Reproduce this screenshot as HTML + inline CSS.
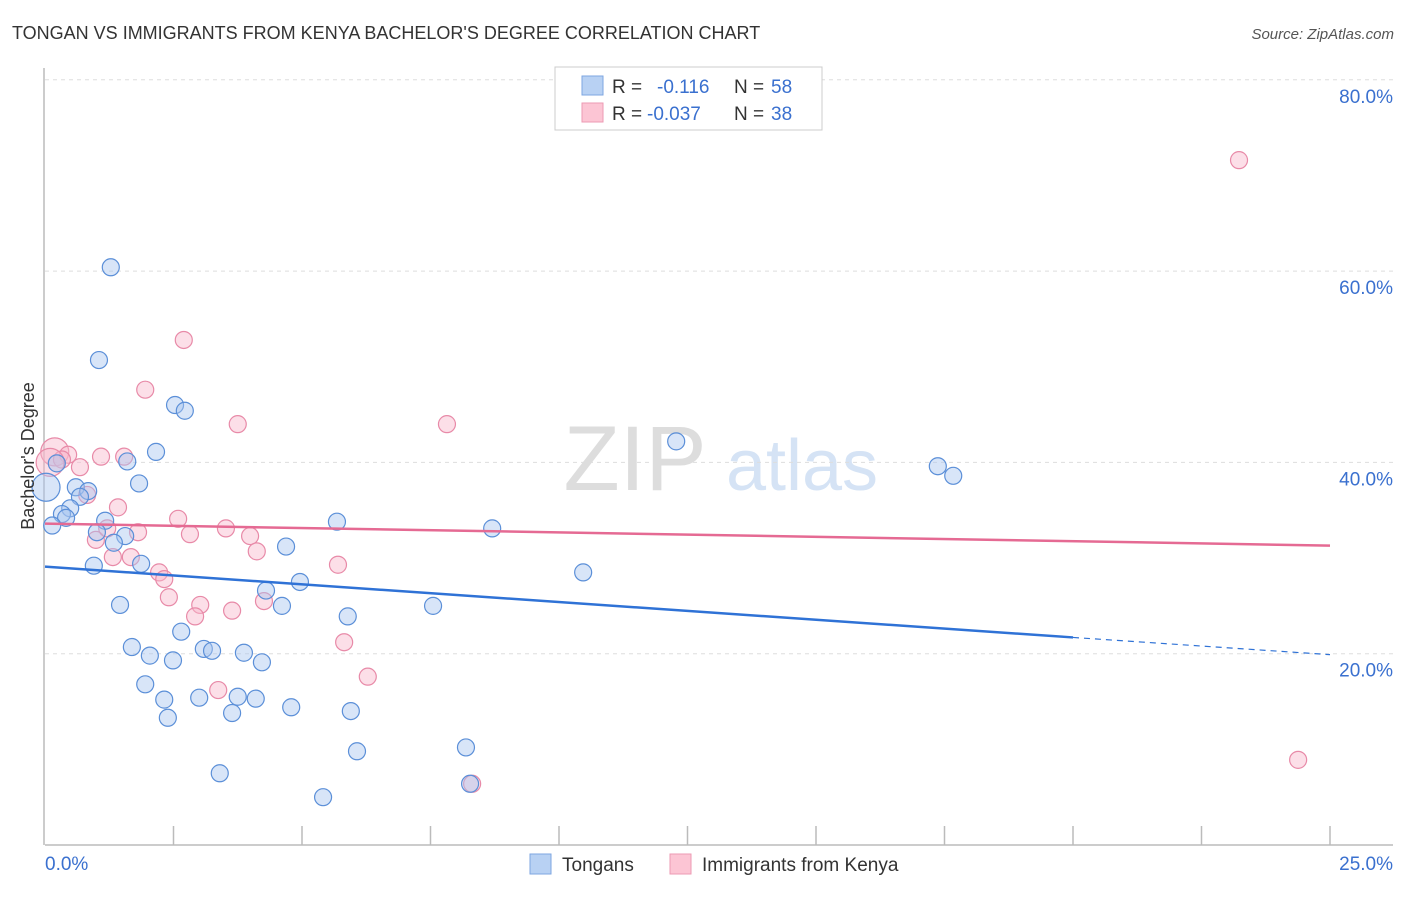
<!DOCTYPE html>
<html><head><meta charset="utf-8"><style>
body{margin:0;background:#fff;font-family:"Liberation Sans",sans-serif}
svg text{font-family:"Liberation Sans",sans-serif}
</style></head><body>
<svg id="chart" width="1406" height="892" xmlns="http://www.w3.org/2000/svg">
<text x="12" y="39" font-size="18" fill="#333">TONGAN VS IMMIGRANTS FROM KENYA BACHELOR'S DEGREE CORRELATION CHART</text>
<text x="1394" y="39" font-size="15" fill="#555" font-style="italic" text-anchor="end">Source: ZipAtlas.com</text>
<g>
<text x="635" y="490" font-size="92" fill="#ddd" font-family="Liberation Serif" text-anchor="middle">ZIP</text>
<text x="802" y="490" font-size="72" fill="#d5e3f5" text-anchor="middle">atlas</text>
</g>
<g id="grid"></g>
<g id="axes"></g>
<g id="marks"></g>
<g>
<rect x="555" y="67" width="267" height="63" fill="#fff" stroke="#ccc"/>
<rect x="582" y="76" width="21" height="19" fill="#b8d1f3" stroke="#7ea6e0"/>
<rect x="582" y="103" width="21" height="19" fill="#fcc5d4" stroke="#ec9ab3"/>
<text x="612" y="93" font-size="19" fill="#333">R =</text>
<text x="657" y="93" font-size="19" fill="#3a70cf">-0.116</text>
<text x="734" y="93" font-size="19" fill="#333">N =</text>
<text x="771" y="93" font-size="19" fill="#3a70cf">58</text>
<text x="612" y="120" font-size="19" fill="#333">R =</text>
<text x="647" y="120" font-size="19" fill="#3a70cf">-0.037</text>
<text x="734" y="120" font-size="19" fill="#333">N =</text>
<text x="771" y="120" font-size="19" fill="#3a70cf">38</text>
</g>
<g>
<rect x="530" y="854" width="21" height="20" fill="#b8d1f3" stroke="#7ea6e0"/>
<text x="562" y="871" font-size="19" fill="#333">Tongans</text>
<rect x="670" y="854" width="21" height="20" fill="#fcc5d4" stroke="#ec9ab3"/>
<text x="702" y="871" font-size="19" fill="#333">Immigrants from Kenya</text>
</g>
<text transform="translate(34,456) rotate(-90)" font-size="18" fill="#333" text-anchor="middle">Bachelor's Degree</text>
</svg>
<script>
const yTicks=[20,40,60,80];
const yTickLabels=["20.0%","40.0%","60.0%","80.0%"];
const xTickCount=10;
const tonganX=[1.28,1.05,2.53,2.72,2.16,1.60,0.23,1.83,0.60,0.84,0.68,0.49,0.33,0.41,0.14,1.17,1.01,1.56,1.34,1.87,0.95,1.46,1.69,2.04,2.49,2.65,3.09,3.25,3.87,4.22,1.95,2.32,3.00,3.75,4.10,2.39,3.64,4.79,3.40,5.41,4.30,4.61,4.96,4.69,5.68,5.89,5.95,6.07,7.55,8.19,8.27,8.70,10.47,12.28,17.37,17.67,0.02];
const tonganY=[60.4,50.7,46.0,45.4,41.1,40.1,39.9,37.8,37.4,37.0,36.4,35.2,34.6,34.2,33.4,33.9,32.7,32.3,31.6,29.4,29.2,25.1,20.7,19.8,19.3,22.3,20.5,20.3,20.1,19.1,16.8,15.2,15.4,15.5,15.3,13.3,13.8,14.4,7.5,5.0,26.6,25.0,27.5,31.2,33.8,23.9,14.0,9.8,25.0,10.2,6.4,33.1,28.5,42.2,39.6,38.6,37.4];
const kenyaX=[23.23,2.70,1.95,3.75,7.82,0.19,0.45,0.33,0.68,1.09,1.54,0.10,0.82,1.42,2.59,0.99,1.21,1.81,2.82,3.52,3.99,4.12,1.32,1.67,2.22,2.32,2.41,3.02,2.92,3.64,4.26,5.70,5.82,6.28,3.37,8.31,24.38];
const kenyaY=[71.6,52.8,47.6,44.0,44.0,41.1,40.8,40.3,39.5,40.6,40.6,40.0,36.6,35.3,34.1,31.9,33.1,32.7,32.5,33.1,32.3,30.7,30.1,30.1,28.5,27.8,25.9,25.1,23.9,24.5,25.5,29.3,21.2,17.6,16.2,6.4,8.9];
const tonganTrend=[29.1,21.7,19.9]; // at x=0, 20, 25
const kenyaTrend=[33.6,31.3]; // at x=0, 25
const X=v=>45+v*1285/25, Y=v=>845-v*191.3/20;
const NS="http://www.w3.org/2000/svg";
function mk(t,a,p){const e=document.createElementNS(NS,t);for(const k in a)e.setAttribute(k,a[k]);p.appendChild(e);return e;}
const grid=document.getElementById('grid'),axes=document.getElementById('axes'),marks=document.getElementById('marks');
yTicks.forEach((t,i)=>{
 const l=mk('line',{x1:45,x2:1393,y1:Y(t),y2:Y(t),stroke:'#ddd','stroke-dasharray':'4,4'},grid);
 
 
 const tx=mk('text',{x:1393,y:Y(t)+23,'font-size':19,fill:'#3a70cf','text-anchor':'end'},axes);
 tx.textContent=yTickLabels[i];
 
 
});
const ax=mk('line',{x1:45,x2:1393,y1:845,y2:845,stroke:'#bbb','stroke-width':1.5},axes);


const ay=mk('line',{x1:44,x2:44,y1:68,y2:845,stroke:'#bbb','stroke-width':1.5},axes);


for(let i=1;i<=xTickCount;i++){const v=25*i/xTickCount;
 const t=mk('line',{x1:X(v),x2:X(v),y1:826,y2:845,stroke:'#bbb','stroke-width':1.5},axes);
 
 }
const x0=mk('text',{x:45,y:870,'font-size':19,fill:'#3a70cf'},axes);x0.textContent='0.0%';


const x1=mk('text',{x:1393,y:870,'font-size':19,fill:'#3a70cf','text-anchor':'end'},axes);x1.textContent='25.0%';


function pts(xs,ys,fill,stroke,name){xs.forEach((x,i)=>{
 const big=(x<0.25&&(i===xs.length-1||name==='kenya-point'));
 const c=mk('circle',{cx:X(x),cy:Y(ys[i]),r:big?14:8.5,fill:fill,'fill-opacity':0.45,stroke:stroke,'stroke-width':1.2},marks);
 
 });}
pts(kenyaX,kenyaY,'#f9b9cb','#e88aa8','kenya-point');
pts(tonganX,tonganY,'#a9c6ef','#5b8fd8','tongan-point');
const tl=mk('line',{x1:X(0),y1:Y(tonganTrend[0]),x2:X(20),y2:Y(tonganTrend[1]),stroke:'#2f72d6','stroke-width':2.5},marks);


const td=mk('line',{x1:X(20),y1:Y(tonganTrend[1]),x2:X(25),y2:Y(tonganTrend[2]),stroke:'#2f72d6','stroke-width':1.2,'stroke-dasharray':'6,5'},marks);


const kl=mk('line',{x1:X(0),y1:Y(kenyaTrend[0]),x2:X(25),y2:Y(kenyaTrend[1]),stroke:'#e56a93','stroke-width':2.5},marks);


</script>
</body></html>
